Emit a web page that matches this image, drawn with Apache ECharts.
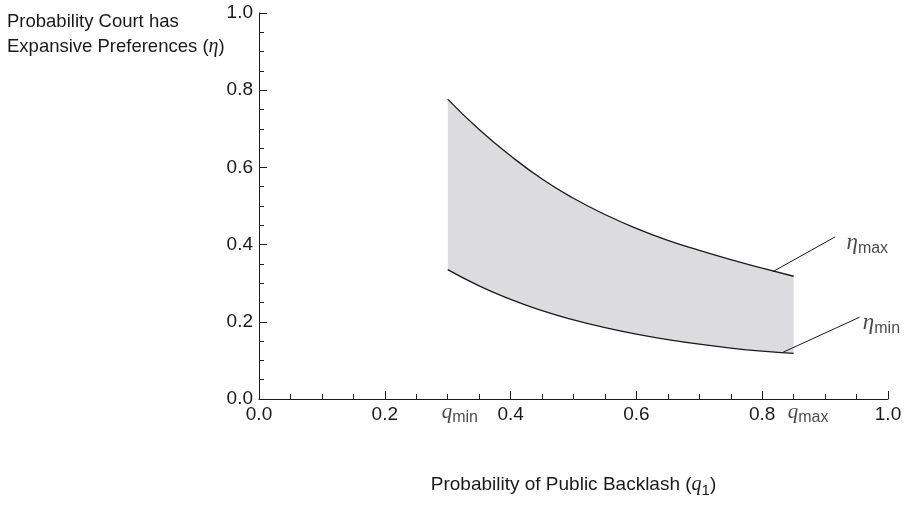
<!DOCTYPE html>
<html>
<head>
<meta charset="utf-8">
<script src="https://cdn.jsdelivr.net/npm/echarts@6/dist/echarts.min.js"></script>
<style>
  html, body { margin: 0; padding: 0; background: #fff; }
  #chart { width: 908px; height: 517px; }
</style>
</head>
<body>
<div id="chart"></div>
<script>
// Backlash probability q1 over the admissible range [q_min, q_max]
const q = [0.30, 0.35, 0.40, 0.45, 0.50, 0.55, 0.60, 0.65, 0.70, 0.75, 0.80, 0.85];
// Upper and lower bounds of eta
const etaMax = [0.777, 0.698, 0.630, 0.570, 0.520, 0.478, 0.442, 0.411, 0.385, 0.361, 0.339, 0.318];
const etaMin = [0.335, 0.293, 0.258, 0.229, 0.205, 0.185, 0.168, 0.154, 0.142, 0.132, 0.124, 0.118];

// Threshold markers on the horizontal axis
const qMarks = [0.30, 0.85];
const qMarkNames = ['min', 'max'];

// Leader lines for the curve labels: [from, to] in data units
const leaderMax = [[0.916, 0.420], [0.817, 0.330]];
const leaderMin = [[0.955, 0.212], [0.833, 0.121]];
// Label anchors
const labelMax = [0.934, 0.405];
const labelMin = [0.960, 0.198];

const SANS = '"Liberation Sans", Arial, Helvetica, sans-serif';
const SERIF = '"Liberation Serif", "Times New Roman", serif';
const INK = '#1a1a1a';
const REGION = '#dcdcde';
const SMOOTH = 0.5;

const chart = echarts.init(document.getElementById('chart'), null, { renderer: 'canvas' });

// Rows are [eta, q] so that stacking accumulates along the eta (y) column.
const rows = (ys) => ys.map((y, i) => [y, q[i]]);
const encodeYX = { x: 1, y: 0 };
const bandWidth = etaMax.map((v, i) => v - etaMin[i]);

const subRich = {
  eta: { fontFamily: SERIF, fontStyle: 'italic', fontSize: 23, color: INK, lineHeight: 28 },
  q: { fontFamily: SERIF, fontStyle: 'italic', fontSize: 21, color: INK, lineHeight: 28 },
  sub: { fontFamily: SANS, fontSize: 16, color: INK, verticalAlign: 'bottom', padding: [10, 0, 0, 0], lineHeight: 28 }
};

const axisCommon = {
  type: 'value', min: 0, max: 1, interval: 0.2, z: 10,
  axisLine: { show: true, lineStyle: { color: INK, width: 1 } },
  axisTick: { show: true, inside: true, length: 8, lineStyle: { color: INK } },
  minorTick: { show: true, splitNumber: 4, length: 5, lineStyle: { color: INK } },
  splitLine: { show: false },
  axisLabel: { fontFamily: SANS, fontSize: 19, color: INK, margin: 6, formatter: v => v.toFixed(1) }
};

const option = {
  animation: false,
  backgroundColor: '#ffffff',
  title: {
    left: 2,
    top: 4,
    text: 'Probability Court has\nExpansive Preferences ({e|η})',
    textStyle: {
      fontFamily: SANS, fontSize: 18.5, fontWeight: 'normal', color: INK, lineHeight: 25,
      rich: { e: { fontFamily: SERIF, fontStyle: 'italic', fontSize: 20, color: INK, lineHeight: 25 } }
    }
  },
  grid: { left: 259, right: 20, top: 13, bottom: 118, containLabel: false },
  xAxis: Object.assign({}, axisCommon, {
    name: '{n|Probability of Public Backlash (}{q|q}{s|1}{n|)}',
    nameLocation: 'middle', nameGap: 73,
    nameTextStyle: {
      rich: {
        n: { fontFamily: SANS, fontSize: 19, color: INK, lineHeight: 26 },
        q: { fontFamily: SERIF, fontStyle: 'italic', fontSize: 20, color: INK, lineHeight: 26 },
        s: { fontFamily: SANS, fontSize: 15, color: INK, verticalAlign: 'bottom', padding: [8, 0, 0, 0], lineHeight: 26 }
      }
    }
  }),
  yAxis: Object.assign({}, axisCommon),
  series: [
    {
      // lower bound eta_min
      name: 'etaMin', type: 'line', stack: 'band', data: rows(etaMin), encode: encodeYX,
      smooth: SMOOTH, symbol: 'none', lineStyle: { color: INK, width: 1.3 }, z: 3
    },
    {
      // shaded region between eta_min and eta_max
      name: 'band', type: 'line', stack: 'band', data: rows(bandWidth), encode: encodeYX,
      smooth: SMOOTH, symbol: 'none', lineStyle: { width: 0, opacity: 0 },
      areaStyle: { color: REGION, opacity: 1 }, z: 2
    },
    {
      // upper bound eta_max
      name: 'etaMax', type: 'line', data: rows(etaMax), encode: encodeYX,
      smooth: SMOOTH, symbol: 'none', lineStyle: { color: INK, width: 1.3 }, z: 3
    },
    {
      name: 'leaderMax', type: 'line', data: leaderMax, symbol: 'none',
      lineStyle: { color: INK, width: 1 }, z: 4
    },
    {
      name: 'leaderMin', type: 'line', data: leaderMin, symbol: 'none',
      lineStyle: { color: INK, width: 1 }, z: 4
    },
    {
      name: 'curveLabels', type: 'scatter', symbolSize: 0, silent: true, z: 5,
      data: [
        { value: labelMax, label: { formatter: '{eta|η}{sub|max}' } },
        { value: labelMin, label: { formatter: '{eta|η}{sub|min}' } }
      ],
      label: { show: true, position: 'right', distance: 0, rich: subRich }
    },
    {
      name: 'qMarks', type: 'scatter', symbolSize: 0, silent: true, z: 5,
      data: qMarks.map((v, i) => ({ value: [v, 0], label: { formatter: '{q|q}{sub|' + qMarkNames[i] + '}' } })),
      label: { show: true, position: 'bottom', distance: 0, align: 'left', offset: [-6, -1], rich: subRich }
    }
  ]
};

chart.setOption(option);
</script>
</body>
</html>
